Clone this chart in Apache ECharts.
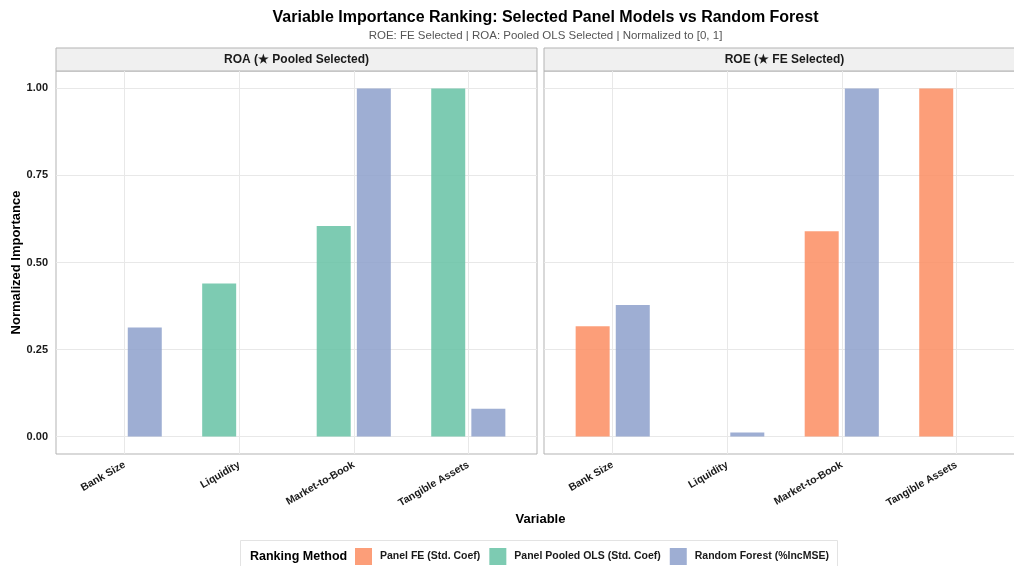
<!DOCTYPE html>
<html>
<head>
<meta charset="utf-8">
<script src="https://cdn.jsdelivr.net/npm/echarts@6/dist/echarts.min.js"></script>
<style>
  html, body { margin: 0; padding: 0; background: #fff; }
  #chart { width: 1014px; height: 566px; }
</style>
</head>
<body>
<div id="chart"></div>
<script>
// Variables ranked, in axis order
const categories = ['Bank Size', 'Liquidity', 'Market-to-Book', 'Tangible Assets'];
// Normalized importance ticks
const yTicks = [0, 0.25, 0.5, 0.75, 1];

// ROA panel (pooled OLS selected)
const roaPooled = [0, 0.44, 0.605, 1.0];
const roaForest = [0.313, 0, 1.0, 0.08];
// ROE panel (fixed effects selected)
const roeFE = [0.317, 0, 0.59, 1.0];
const roeForest = [0.378, 0.012, 1.0, 0];

const panelTitles = ['ROA (\u2605 Pooled Selected)', 'ROE (\u2605 FE Selected)'];
const methodNames = ['Panel FE (Std. Coef)', 'Panel Pooled OLS (Std. Coef)', 'Random Forest (%IncMSE)'];
const methodColors = ['#FC8D62', '#66C2A5', '#8DA0CB'];

const FONT = '"Liberation Sans", Arial, Helvetica, sans-serif';
const panelLeft = [56, 544];
const panelTop = 71;
const panelW = 481;
const panelH = 383;
const stripH = 23;
const catPos = categories.map((c, k) => k + 1);

const chart = echarts.init(document.getElementById('chart'), null, { renderer: 'canvas' });

function bar(name, values, colorIdx, panel) {
  return {
    type: 'bar',
    name: name,
    xAxisIndex: panel,
    yAxisIndex: panel,
    data: values.map((v, k) => [catPos[k], v]),
    barWidth: 34,
    barGap: '18%',
    itemStyle: {
      color: methodColors[colorIdx],
      opacity: 0.85
    },
    emphasis: { disabled: true },
    silent: true
  };
}

const grids = panelLeft.map(l => ({
  left: l, top: panelTop, width: panelW, height: panelH,
  outerBoundsMode: 'none',
  show: true, backgroundColor: '#fff', borderColor: '#b3b3b3', borderWidth: 1
}));

const xAxes = panelLeft.map((l, i) => ({
  gridIndex: i,
  type: 'value',
  min: 0.4,
  max: 4.6,
  axisLine: { show: false },
  axisTick: { show: false, customValues: catPos },
  axisLabel: {
    customValues: catPos,
    formatter: v => categories[Math.round(v) - 1] || '',
    rotate: 30,
    margin: 10,
    fontFamily: FONT,
    fontWeight: 'bold',
    fontSize: 10.5,
    color: '#1a1a1a'
  },
  splitLine: { show: true, lineStyle: { color: '#e8e8e8', width: 1 } }
}));

const yAxes = panelLeft.map((l, i) => ({
  gridIndex: i,
  type: 'value',
  min: -0.05,
  max: 1.05,
  axisLine: { show: false },
  axisTick: { show: false, customValues: yTicks },
  axisLabel: {
    show: i === 0,
    customValues: yTicks,
    formatter: v => v.toFixed(2),
    margin: 8,
    fontFamily: FONT,
    fontWeight: 'bold',
    fontSize: 11,
    color: '#1a1a1a'
  },
  splitLine: { show: true, lineStyle: { color: '#e8e8e8', width: 1 } },
  name: i === 0 ? 'Normalized Importance' : '',
  nameLocation: 'middle',
  nameGap: 32,
  nameTextStyle: { fontFamily: FONT, fontWeight: 'bold', fontSize: 13, color: '#000' }
}));

const graphics = [];
panelLeft.forEach((l, i) => {
  graphics.push({
    type: 'rect',
    shape: { x: l, y: panelTop - stripH, width: panelW, height: stripH },
    style: { fill: '#f0f0f0', stroke: '#b3b3b3', lineWidth: 1 },
    silent: true
  });
  graphics.push({
    type: 'text',
    x: l + panelW / 2,
    y: panelTop - stripH / 2,
    style: {
      text: panelTitles[i],
      fill: '#1a1a1a',
      font: 'bold 12px ' + FONT,
      align: 'center',
      verticalAlign: 'middle'
    },
    silent: true
  });
});
// x-axis title
graphics.push({
  type: 'text',
  x: 540.5,
  y: 519,
  style: { text: 'Variable', fill: '#000', font: 'bold 13px ' + FONT, align: 'center', verticalAlign: 'middle' },
  silent: true
});
// legend frame and heading
graphics.push({
  type: 'rect',
  z: -1,
  shape: { x: 240.5, y: 540.5, width: 597, height: 40 },
  style: { fill: '#fff', stroke: '#e3e3e3', lineWidth: 1 },
  silent: true
});
graphics.push({
  type: 'text',
  x: 250,
  y: 557,
  style: { text: 'Ranking Method', fill: '#000', font: 'bold 12.5px ' + FONT, align: 'left', verticalAlign: 'middle' },
  silent: true
});

const option = {
  animation: false,
  backgroundColor: '#fff',
  textStyle: { fontFamily: FONT },
  title: [
    {
      text: 'Variable Importance Ranking: Selected Panel Models vs Random Forest',
      left: 540.5, top: 5, textAlign: 'center',
      textStyle: { fontFamily: FONT, fontSize: 16, fontWeight: 'bold', color: '#000' }
    },
    {
      text: 'ROE: FE Selected | ROA: Pooled OLS Selected | Normalized to [0, 1]',
      left: 540.5, top: 25, textAlign: 'center',
      textStyle: { fontFamily: FONT, fontSize: 11.5, fontWeight: 'normal', color: '#555' }
    }
  ],
  legend: {
    data: methodNames,
    left: 355,
    top: 548,
    padding: 0,
    orient: 'horizontal',
    icon: 'rect',
    itemWidth: 17,
    itemHeight: 17,
    itemGap: 9,
    selectedMode: false,
    textStyle: { fontFamily: FONT, fontWeight: 'bold', fontSize: 10.5, color: '#1a1a1a', padding: [0, 0, 0, 3] }
  },
  grid: grids,
  xAxis: xAxes,
  yAxis: yAxes,
  graphic: graphics,
  series: [
    bar(methodNames[1], roaPooled, 1, 0),
    bar(methodNames[2], roaForest, 2, 0),
    bar(methodNames[0], roeFE, 0, 1),
    bar(methodNames[2], roeForest, 2, 1)
  ]
};

chart.setOption(option);
</script>
</body>
</html>
